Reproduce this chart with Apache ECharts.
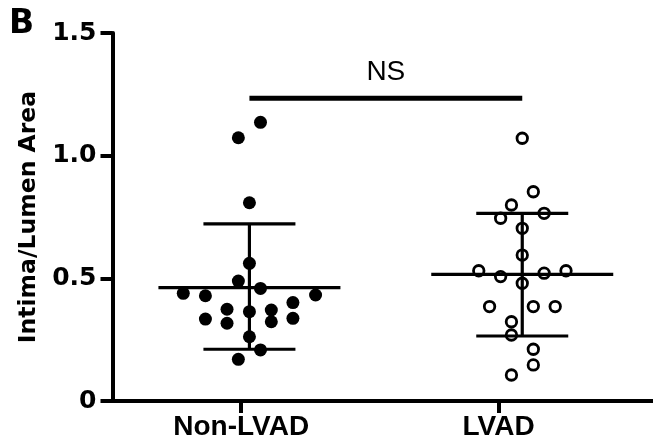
<!DOCTYPE html>
<html>
<head>
<meta charset="utf-8">
<script src="https://cdn.jsdelivr.net/npm/echarts@6/dist/echarts.min.js"></script>
<style>
  html, body { margin: 0; padding: 0; background: #fff; }
  #chart { width: 653px; height: 446px; }
</style>
</head>
<body>
<div id="chart"></div>
<script>
// groups on the x axis
const categories = ['Non-LVAD', 'LVAD'];
const yTicks = [0, 0.5, 1.0, 1.5];

// Non-LVAD (filled dots): x position on the axis (with scatter offset), value
const nonLvadX = [0.075, -0.011, 0.032, 0.032, -0.011, 0.075, -0.225, -0.139, 0.289, 0.201,
                  -0.055, 0.032, 0.117, -0.139, -0.055, 0.117, 0.201, 0.032, 0.075, -0.011];
const nonLvadY = [1.136, 1.073, 0.808, 0.561, 0.489, 0.459, 0.439, 0.429, 0.432, 0.401,
                  0.374, 0.364, 0.371, 0.334, 0.317, 0.323, 0.337, 0.262, 0.208, 0.170];

// LVAD (open circles)
const lvadX = [1.092, 1.135, 1.050, 1.177, 1.008, 1.092, 1.092, 0.923, 1.008, 1.177,
               1.262, 1.092, 0.965, 1.135, 1.220, 1.050, 1.050, 1.135, 1.135, 1.050];
const lvadY = [1.071, 0.853, 0.799, 0.765, 0.745, 0.704, 0.595, 0.531, 0.507, 0.521,
               0.531, 0.480, 0.385, 0.385, 0.385, 0.323, 0.269, 0.211, 0.147, 0.106];

// mean +/- SD per group
const groupCenter = [0.032, 1.092];
const groupMean = [0.462, 0.516];
const groupLow = [0.211, 0.265];
const groupHigh = [0.722, 0.765];

// significance bar
const sigLevel = 1.234;
const sigText = 'NS';

const chart = echarts.init(document.getElementById('chart'));

const zip = (xs, ys) => xs.map((x, i) => [x, ys[i]]);

const errData = groupCenter.map((c, i) => [c, groupMean[i], groupLow[i], groupHigh[i]]);

const renderErr = (params, api) => {
    const c = api.value(0);
    const pm = api.coord([c, api.value(1)]);
    const pl = api.coord([c, api.value(2)]);
    const ph = api.coord([c, api.value(3)]);
    const st = {stroke: '#000', lineWidth: 3.2};
    const line = (x1, y1, x2, y2) => ({type: 'line', shape: {x1, y1, x2, y2}, style: st});
    return {
        type: 'group',
        children: [
            line(pm[0] - 91, pm[1], pm[0] + 91, pm[1]),
            line(ph[0] - 46, ph[1], ph[0] + 46, ph[1]),
            line(pl[0] - 46, pl[1], pl[0] + 46, pl[1]),
            line(pm[0], ph[1], pm[0], pl[1]),
        ]
    };
};

const renderSig = (params, api) => {
    const a = api.coord([api.value(0), api.value(2)]);
    const b = api.coord([api.value(1), api.value(2)]);
    return {
        type: 'group',
        children: [
            {type: 'line', shape: {x1: a[0], y1: a[1], x2: b[0], y2: b[1]},
             style: {stroke: '#000', lineWidth: 5}},
            {type: 'text', x: (a[0] + b[0]) / 2, y: a[1] - 12,
             style: {text: sigText, fill: '#000', font: '28px "Liberation Sans", Arial, sans-serif',
                     align: 'center', verticalAlign: 'bottom'}}
        ]
    };
};

chart.setOption({
    animation: false,
    backgroundColor: '#fff',
    graphic: [{
        type: 'text', left: 9, top: 8,
        style: {text: 'B', fill: '#000', font: 'bold 33px "DejaVu Sans", sans-serif'}
    }],
    grid: {left: 112.5, right: 0, top: 33, bottom: 45, containLabel: false},
    xAxis: {
        type: 'value',
        min: -0.5,
        max: 1.6,
        splitLine: {show: false},
        axisLine: {show: true, onZero: false, lineStyle: {color: '#000', width: 4}},
        axisTick: {show: true, customValues: [0, 1], length: 12, lineStyle: {color: '#000', width: 4}},
        axisLabel: {
            customValues: [0, 1],
            margin: 12,
            color: '#000',
            fontFamily: '"Liberation Sans", Arial, sans-serif',
            fontWeight: 'bold',
            fontSize: 28,
            formatter: v => categories[Math.round(v)] || ''
        }
    },
    yAxis: {
        type: 'value',
        min: 0,
        max: 1.5,
        interval: 0.5,
        name: 'Intima/Lumen Area',
        nameLocation: 'middle',
        nameRotate: 90,
        nameGap: 72,
        nameTextStyle: {color: '#000', fontFamily: '"DejaVu Sans", sans-serif', fontWeight: 'bold', fontSize: 23.5},
        splitLine: {show: false},
        axisLine: {show: true, onZero: false, lineStyle: {color: '#000', width: 4}},
        axisTick: {show: true, length: 12, lineStyle: {color: '#000', width: 4}},
        axisLabel: {
            margin: 16,
            color: '#000',
            fontFamily: '"DejaVu Sans", sans-serif',
            fontWeight: 'bold',
            fontSize: 25,
            formatter: v => yTicks.includes(v) ? (v === 0 ? '0' : v.toFixed(1)) : ''
        }
    },
    series: [
        {
            type: 'scatter',
            data: zip(nonLvadX, nonLvadY),
            symbol: 'circle',
            symbolSize: 13,
            itemStyle: {color: '#000', opacity: 1},
            z: 2
        },
        {
            type: 'scatter',
            data: zip(lvadX, lvadY),
            symbol: 'circle',
            symbolSize: 10.5,
            itemStyle: {color: '#fff', borderColor: '#000', borderWidth: 2.8, opacity: 1},
            z: 2
        },
        {
            type: 'custom',
            renderItem: renderErr,
            data: errData,
            z: 3,
            silent: true
        },
        {
            type: 'custom',
            renderItem: renderSig,
            data: [[groupCenter[0], groupCenter[1], sigLevel]],
            z: 3,
            silent: true
        }
    ]
});
</script>
</body>
</html>
